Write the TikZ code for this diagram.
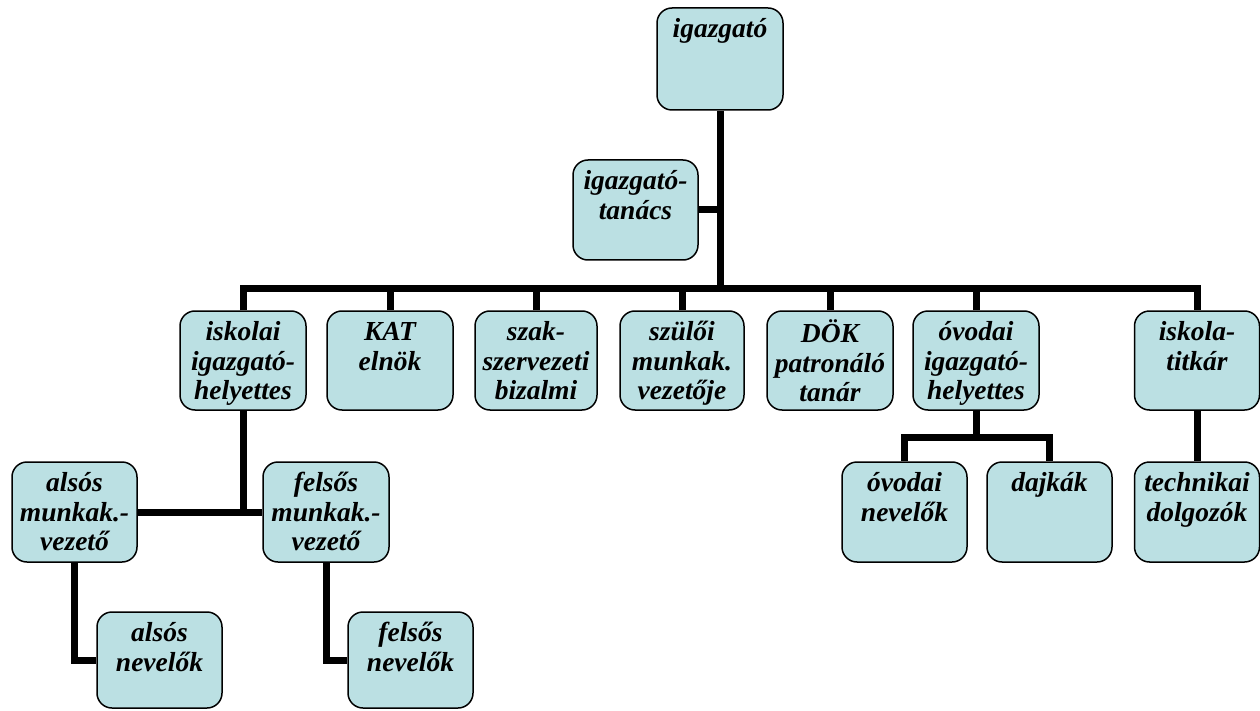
\documentclass[tikz,border=0pt]{standalone}
\usepackage{fontspec}
\setmainfont{Liberation Serif}
\definecolor{boxfill}{RGB}{187,224,227}
\tikzset{
  orgbox/.style={draw=black, line width=1.5pt, rounded corners=15pt, fill=boxfill, inner sep=0pt},
  conn/.style={draw=black, line width=7pt, line join=miter, line cap=butt}
}
\newcommand\obox[6]{% name, cx, cy, w, h, text
  \node[orgbox, minimum width=#4pt, minimum height=#5pt] (#1) at (#2,#3)
  {\parbox[c][#5pt][t]{#4pt}{\centering\fontsize{27.5}{29.5}\selectfont\bfseries\itshape\vspace{9pt}\strut #6}};}
\begin{document}
\begin{tikzpicture}[x=1pt,y=-1pt]
\useasboundingbox (0,0) rectangle (1260,711);
\coordinate (barL) at (243,288);
\coordinate (ovbar) at (977,437);
% boxes
\obox{dir}{720}{59}{126}{102}{igazgató}
\obox{tan}{635.5}{210}{125}{100}{igazgató-\\tanács}
\obox{isk}{243}{360.5}{126}{99}{iskolai\\igazgató-\\helyettes}
\obox{kat}{390}{360.5}{126}{99}{KAT\\elnök}
\obox{szak}{536}{360.5}{122}{99}{szak-\\szervezeti\\bizalmi}
\obox{szul}{682}{360.5}{124}{99}{szülői\\munkak.\\vezetője}
\obox{dok}{830}{360.5}{126}{99}{DÖK\\patronáló\\tanár}
\obox{ovigh}{976}{360.5}{126}{99}{óvodai\\igazgató-\\helyettes}
\obox{tit}{1197}{360.5}{125}{99}{iskola-\\titkár}
\obox{alsmk}{74.5}{512}{125}{100}{alsós\\munkak.-\\vezető}
\obox{felsmk}{326}{512}{126}{100}{felsős\\munkak.-\\vezető}
\obox{ovnev}{904.5}{512}{125}{100}{óvodai\\nevelők}
\obox{dajka}{1049.5}{512}{125}{100}{dajkák}
\obox{tech}{1197}{512}{125}{100}{technikai\\dolgozók}
\obox{alsnev}{159.5}{660}{125}{96}{alsós\\nevelők}
\obox{felsnev}{410.5}{660}{125}{96}{felsős\\nevelők}
% connectors
\path[conn] (dir.south) -- (dir.south |- barL);
\path[conn] (tan.east) -- (dir.south |- tan.east);
\path[conn] (isk.north) -- (isk.north |- barL) -| (tit.north);
\path[conn] (kat.north) -- (kat.north |- barL);
\path[conn] (szak.north) -- (szak.north |- barL);
\path[conn] (szul.north) -- (szul.north |- barL);
\path[conn] (dok.north) -- (dok.north |- barL);
\path[conn] (ovigh.north) -- (ovigh.north |- barL);
\path[conn] (isk.south) -- (isk.south |- alsmk.east);
\path[conn] (alsmk.east) -- (felsmk.west);
\path[conn] (alsmk.south) |- (alsnev.west);
\path[conn] (felsmk.south) |- (felsnev.west);
\path[conn] (ovigh.south) -- (ovigh.south |- ovbar);
\path[conn] (ovnev.north) |- (ovbar) -| (dajka.north);
\path[conn] (tit.south) -- (tech.north);
\end{tikzpicture}
\end{document}
